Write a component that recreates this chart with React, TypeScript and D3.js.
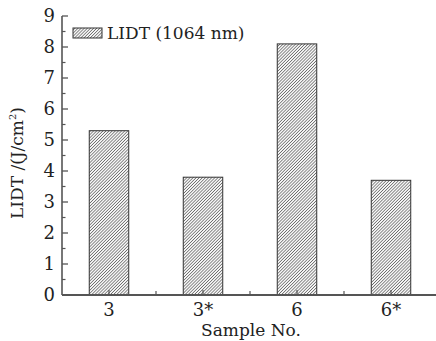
import * as d3 from 'd3';
import { useEffect, useRef } from 'react';

const samples = ['3', '3*', '6', '6*'];
const lidt = [5.3, 3.8, 8.1, 3.7];
const yTicks = [0, 1, 2, 3, 4, 5, 6, 7, 8, 9];
const seriesLabel = 'LIDT (1064 nm)';

export default function App() {
  const ref = useRef<SVGSVGElement | null>(null);

  useEffect(() => {
    const svg = d3.select(ref.current);
    svg.selectAll('*').remove();
    const width = 436;
    const height = 341;
    const font = '"DejaVu Serif", serif';
    const axisColor = '#555';

    svg.append('rect').attr('width', width).attr('height', height).attr('fill', '#fff');

    // hatch pattern, dense "/" lines
    const step = 2.2;
    const defs = svg.append('defs');
    const pat = defs
      .append('pattern')
      .attr('id', 'hatch')
      .attr('patternUnits', 'userSpaceOnUse')
      .attr('width', step)
      .attr('height', step)
      .attr('patternTransform', 'rotate(45)');
    pat.append('rect').attr('width', step).attr('height', step).attr('fill', '#f6f6f6');
    pat.append('line').attr('x1', 0).attr('y1', 0).attr('x2', 0).attr('y2', step).attr('stroke', '#3c3c3c').attr('stroke-width', 1.1);

    const x = d3.scaleBand<string>().domain(samples).range([62, 438]).paddingInner(0.58).paddingOuter(0.29);
    const xBand = d3.scaleBand<string>().domain(samples).range([62, 438]);
    const y = d3.scaleLinear().domain([0, 9]).range([295, 16]);

    // bars
    svg
      .selectAll('rect.bar')
      .data(samples)
      .enter()
      .append('rect')
      .attr('class', 'bar')
      .attr('x', (d) => x(d)!)
      .attr('y', (d, i) => y(lidt[i]))
      .attr('width', x.bandwidth())
      .attr('height', (d, i) => y(0) - y(lidt[i]))
      .attr('fill', 'url(#hatch)')
      .attr('stroke', '#333')
      .attr('stroke-width', 1);

    // y axis
    const gy = svg.append('g');
    gy.append('line').attr('x1', 62).attr('x2', 62).attr('y1', y(9)).attr('y2', y(0)).attr('stroke', axisColor).attr('stroke-width', 1.6);
    yTicks.forEach((t) => {
      gy.append('line').attr('x1', 62).attr('x2', 68).attr('y1', y(t)).attr('y2', y(t)).attr('stroke', axisColor).attr('stroke-width', 1.3);
      if (t < 9) {
        gy.append('line').attr('x1', 62).attr('x2', 65.5).attr('y1', y(t + 0.5)).attr('y2', y(t + 0.5)).attr('stroke', axisColor).attr('stroke-width', 1.2);
      }
      gy.append('text')
        .attr('x', 55)
        .attr('y', y(t) + 6)
        .attr('text-anchor', 'end')
        .attr('font-family', font)
        .attr('font-size', 18)
        .attr('fill', '#222')
        .text(t);
    });

    // x axis
    const gx = svg.append('g');
    gx.append('line').attr('x1', 62).attr('x2', 436).attr('y1', y(0)).attr('y2', y(0)).attr('stroke', axisColor).attr('stroke-width', 1.8);
    samples.forEach((s, i) => {
      const cx = xBand(s)! + xBand.bandwidth() / 2;
      gx.append('line').attr('x1', cx).attr('x2', cx).attr('y1', y(0)).attr('y2', y(0) - 5).attr('stroke', axisColor).attr('stroke-width', 1.2);
      if (i > 0) {
        const bx = xBand(s)!;
        gx.append('line').attr('x1', bx).attr('x2', bx).attr('y1', y(0)).attr('y2', y(0) - 4).attr('stroke', axisColor).attr('stroke-width', 1.2);
      }
      gx.append('text')
        .attr('x', cx)
        .attr('y', 316)
        .attr('text-anchor', 'middle')
        .attr('font-family', font)
        .attr('font-size', 18)
        .attr('fill', '#222')
        .text(s);
    });

    // axis titles
    svg
      .append('text')
      .attr('x', 251)
      .attr('y', 336)
      .attr('text-anchor', 'middle')
      .attr('font-family', font)
      .attr('font-size', 17)
      .attr('fill', '#222')
      .text('Sample No.');

    const yl = svg
      .append('text')
      .attr('transform', 'translate(23,163) rotate(-90)')
      .attr('text-anchor', 'middle')
      .attr('font-family', font)
      .attr('font-size', 17)
      .attr('fill', '#222');
    yl.append('tspan').text('LIDT /(J/cm');
    yl.append('tspan').attr('font-size', 10).attr('dy', -7).text('2');
    yl.append('tspan').attr('dy', 7).text(')');

    // legend
    const lg = svg.append('g');
    lg.append('rect').attr('x', 73).attr('y', 28).attr('width', 29).attr('height', 10).attr('fill', 'url(#hatch)').attr('stroke', '#333').attr('stroke-width', 1);
    lg.append('text')
      .attr('x', 107)
      .attr('y', 39)
      .attr('font-family', font)
      .attr('font-size', 17)
      .attr('fill', '#222')
      .text(seriesLabel);
  }, []);

  return (
    <div style={{ position: 'fixed', left: 0, top: 0 }}>
      <svg ref={ref} width={436} height={341} style={{ display: 'block' }} />
    </div>
  );
}
